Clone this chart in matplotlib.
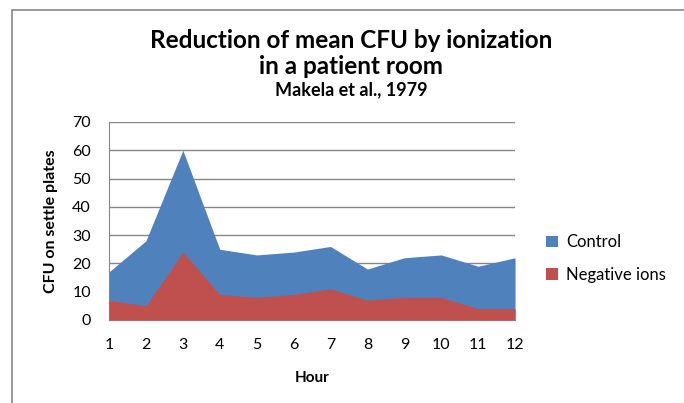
import matplotlib
matplotlib.use('Agg')
import matplotlib.pyplot as plt
from matplotlib.patches import Rectangle

hours = [1, 2, 3, 4, 5, 6, 7, 8, 9, 10, 11, 12]
control = [17, 28, 60, 25, 23, 24, 26, 18, 22, 23, 19, 22]
negative_ions = [7, 5, 24, 9, 8, 9, 11, 7, 8, 8, 4, 4]

plt.rcParams['font.family'] = ['Lato', 'DejaVu Sans']

fig = plt.figure(figsize=(6.84, 4.03), dpi=100)
ax = fig.add_axes([0.1594, 0.206, 0.5936, 0.4913])

ax.fill_between(hours, control, color='#4F81BD', label='Control', lw=0, zorder=2)
ax.fill_between(hours, negative_ions, color='#C0504D', label='Negative ions', lw=0, zorder=3)

ax.set_xlim(1, 12)
ax.set_ylim(0, 70)
ax.set_yticks(range(0, 71, 10))
ax.set_xticks(hours)
ax.grid(axis='y', color='#878787', lw=1)
ax.set_axisbelow(True)
for s in ['top', 'right']:
    ax.spines[s].set_visible(False)
ax.spines['left'].set_color('#878787')
ax.spines['bottom'].set_color('#878787')
ax.tick_params(length=0, labelsize=11.5)
ax.tick_params(axis='x', pad=13)
ax.tick_params(axis='y', pad=13)

ax.set_ylabel('CFU on settle plates', fontsize=11.5, fontweight='bold', labelpad=10)
ax.set_xlabel('Hour', fontsize=11, fontweight='bold', labelpad=14)

fig.text(0.513, 0.90, 'Reduction of mean CFU by ionization', ha='center', va='center',
         fontsize=17.5, fontweight='bold')
fig.text(0.513, 0.836, 'in a patient room', ha='center', va='center',
         fontsize=17.5, fontweight='bold')
fig.text(0.513, 0.777, 'Makela et al., 1979', ha='center', va='center',
         fontsize=13, fontweight='bold')

ax.legend(loc='center left', bbox_to_anchor=(1.04, 0.31), frameon=False,
          fontsize=12, handlelength=0.7, handleheight=0.7, handletextpad=0.5,
          labelspacing=1.0)

fig.patches.append(Rectangle((12 / 684, -0.1), 1.2, 1 - 10 / 403 + 0.1,
                             transform=fig.transFigure, fill=False,
                             edgecolor='#878787', lw=1.2))

fig.savefig('out.png', dpi=100)
